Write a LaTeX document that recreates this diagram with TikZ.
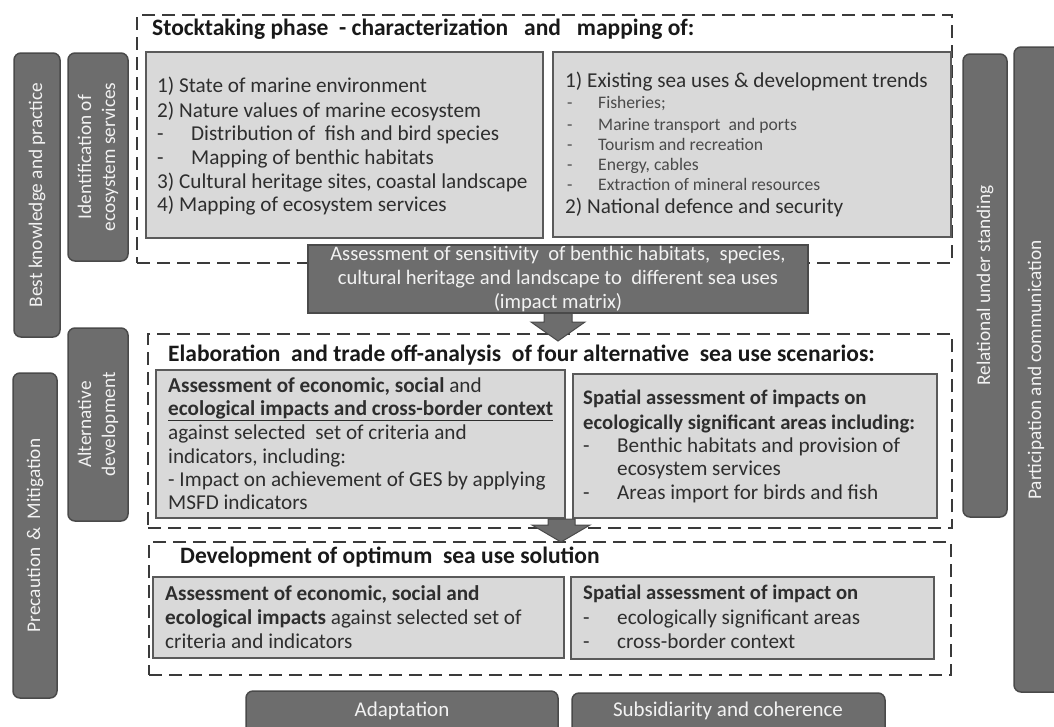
\documentclass[tikz,border=0pt]{standalone}
\usepackage{fontspec}
\setmainfont{Carlito}
\usetikzlibrary{calc}
\definecolor{barfill}{HTML}{6D6D6D}
\definecolor{barline}{HTML}{4A4A4A}
\definecolor{boxfill}{HTML}{D9D9D9}
\definecolor{boxline}{HTML}{5A5A5A}
\definecolor{dashcol}{HTML}{3A3A3A}
\definecolor{txt}{HTML}{2E2E2E}
\definecolor{subtxt}{HTML}{4A4A4A}
\definecolor{wtxt}{HTML}{F2F2F2}
\newcommand\rbox[6]{\node[#2, minimum width=#5pt-#3pt, minimum height=#6pt-#4pt] (#1) at ({(#3+#5)/2},{(#4+#6)/2}) {};}
\newcommand\dsh[2]{\makebox[#1pt][l]{-}#2}
\begin{document}
\begin{tikzpicture}[x=1pt,y=-1pt,
  bar/.style={draw=barline, line width=1.5pt, fill=barfill, rounded corners=7pt, inner sep=0pt, outer sep=0pt},
  lbox/.style={draw=boxline, line width=2pt, fill=boxfill, inner sep=0pt, outer sep=0pt},
  dbox/.style={draw=dashcol, line width=2.4pt, dash pattern=on 13pt off 7pt, inner sep=0pt, outer sep=0pt},
  dark/.style={draw=barline, line width=2pt, fill=barfill, inner sep=0pt, outer sep=0pt},
  ln/.style={anchor=base west, inner sep=0pt, text=txt, font=\fontsize{21.2}{24}\selectfont},
  lnb/.style={ln, font=\fontsize{21.2}{24}\bfseries\selectfont},
  lnb2/.style={ln, font=\fontsize{20.7}{24}\bfseries\selectfont},
  sm/.style={ln, text=subtxt, font=\fontsize{17.6}{20}\selectfont},
  ttl/.style={anchor=base west, inner sep=0pt, text=black!90, font=\fontsize{23.5}{26}\bfseries\selectfont},
  vt/.style={rotate=90, text=wtxt, align=center, font=\fontsize{19.3}{24}\selectfont, inner sep=0pt},
  ht/.style={text=wtxt, align=center, font=\fontsize{20.6}{24}\selectfont, inner sep=0pt},
  blk/.style={fill=barfill, draw=barline, line width=1pt, line join=miter}
]
\useasboundingbox (0,0) rectangle (1054,726);
\clip (0,0) rectangle (1054,726);
\fill[white] (0,0) rectangle (1054,726);

% side bars
\rbox{b1}{bar}{14}{53}{60}{337}
\node[vt] (b1t) at (b1.center) {Best knowledge and practice};
\rbox{b2}{bar}{68}{53}{128}{261}
\node[vt] (b2t) at (b2.center) {Identification of\\ecosystem services};
\rbox{b3}{bar}{68}{328}{128}{521}
\node[vt] (b3t) at (b3.center) {Alternative\\development};
\rbox{b4}{bar}{13}{373}{57}{698}
\node[vt] (b4t) at (b4.center) {Precaution \,\&\, Mitigation};
\rbox{b5}{bar}{963}{54}{1007}{517}
\node[vt] (b5t) at (b5.center) {Relational under standing};
\rbox{b6}{bar}{1014}{47}{1062}{692}
\node[vt] (b6t) at (1036,370) {Participation and communication};
\rbox{b7}{bar}{246}{691}{558}{745}
\node[ht, font=\fontsize{21}{24}\selectfont] (b7t) at (402,711) {Adaptation};
\rbox{b8}{bar}{572}{693}{885}{745}
\node[ht, font=\fontsize{21}{24}\selectfont] (b8t) at (728,711) {Subsidiarity and coherence};

% dashed frames
\rbox{d1}{dbox}{137}{15}{952}{263}
\rbox{d2}{dbox}{148}{334}{952}{528}
\rbox{d3}{dbox}{149}{542}{951}{675}

% titles
\node[ttl] (t1) at (152,35) {Stocktaking phase\ \ -\ characterization\ \ \ and\ \ \ mapping of:};
\node[ttl] (t2) at (168,361) {Elaboration\ \ and trade off-analysis\ \ of four alternative\ \ sea use scenarios:};
\node[ttl] (t3) at (180,563) {Development of optimum\ \ sea use solution};

% stocktaking boxes
\rbox{i1l}{lbox}{146}{52}{543}{238}
\rbox{i1r}{lbox}{553}{52}{951}{237}
\node[ln] (l1a) at (157,92) {1) State of marine environment};
\node[ln] (l1b) at (157,117) {2) Nature values of marine ecosystem};
\node[ln] (l1c) at (157,140) {\dsh{34}{Distribution of\ \ fish and bird species}};
\node[ln] (l1d) at (157,164) {\dsh{34}{Mapping of benthic habitats}};
\node[ln] (l1e) at (157,188) {3) Cultural heritage sites, coastal landscape};
\node[ln] (l1f) at (157,211) {4) Mapping of ecosystem services};

\node[ln] (r1a) at (565,87) {1) Existing sea uses \& development trends};
\node[sm] (r1b) at (567,108) {\dsh{31}{Fisheries;}};
\node[sm] (r1c) at (567,130) {\dsh{31}{Marine transport\ \ and ports}};
\node[sm] (r1d) at (567,150) {\dsh{31}{Tourism and recreation}};
\node[sm] (r1e) at (567,170) {\dsh{31}{Energy, cables}};
\node[sm] (r1f) at (567,190) {\dsh{31}{Extraction of mineral resources}};
\node[ln] (r1g) at (565,213) {2) National defence and security};

% elaboration boxes
\rbox{i2l}{lbox}{156}{370}{565}{518}
\rbox{i2r}{lbox}{573}{374}{937}{518}
\node[ln] (l2a) at (168,392) {\textbf{Assessment of economic, social} and};
\node[lnb] (l2b) at (168,415) {\underline{ecological impacts and cross-border context}};
\node[ln] (l2c) at (168,439) {against selected\ \ set of criteria and};
\node[ln] (l2d) at (168,463) {indicators, including:};
\node[ln] (l2e) at (168,486) {- Impact on achievement of GES by applying};
\node[ln] (l2f) at (168,509) {MSFD indicators};

\node[lnb2] (r2a) at (583,404) {Spatial assessment of impacts on};
\node[lnb2] (r2b) at (583,429) {ecologically significant areas including:};
\node[ln] (r2c) at (583,452) {\dsh{34}{Benthic habitats and provision of}};
\node[ln] (r2d) at (617,475) {ecosystem services};
\node[ln] (r2e) at (583,499) {\dsh{34}{Areas import for birds and fish}};

% optimum solution boxes
\rbox{i3l}{lbox}{153}{577}{564}{658}
\rbox{i3r}{lbox}{571}{577}{934}{659}
\node[lnb] (l3a) at (165,600) {Assessment of economic, social and};
\node[ln] (l3b) at (165,624) {\textbf{ecological impacts} against selected set of};
\node[ln] (l3c) at (165,648) {criteria and indicators};
\node[lnb2] (r3a) at (583,599) {Spatial assessment of impact on};
\node[ln] (r3b) at (583,624) {\dsh{34}{ecologically significant areas}};
\node[ln] (r3c) at (583,648) {\dsh{34}{cross-border context}};

% impact matrix box and block arrows
\draw[blk] (544,313) -- (544,322) -- (531,322) -- (558,341) -- (585,322) -- (572,322) -- (572,313) -- cycle;
\rbox{asm}{dark}{308}{245}{808}{313}
\node[ht] (asmt) at (asm.center) {Assessment of sensitivity\ \ of benthic habitats,\ \ species,\\cultural heritage and landscape to\ \ different sea uses\\(impact matrix)};

\coordinate (a2) at (561,519);
\draw[blk] ($(a2)+(-13,0)$) -- ++(0,6) -- ++(-16,0) -- ($(a2)+(0,23)$) -- ($(a2)+(29,6)$) -- ($(a2)+(14,6)$) -- ($(a2)+(14,0)$) -- cycle;
\end{tikzpicture}
\end{document}
